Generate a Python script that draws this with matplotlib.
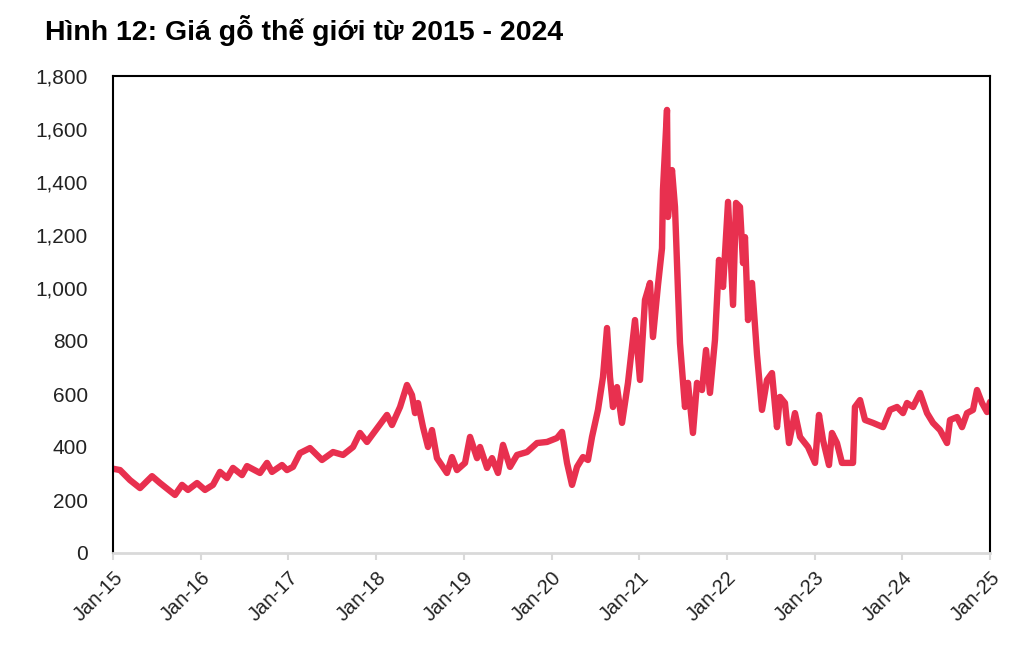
import matplotlib
matplotlib.use("Agg")
import matplotlib.pyplot as plt

plt.rcParams['font.family'] = ['Liberation Sans', 'DejaVu Sans']

years = [
    0.000, 0.080, 0.194, 0.308, 0.445, 0.536, 0.707, 0.787, 0.855, 0.958,
    1.049, 1.140, 1.220, 1.300, 1.368, 1.471, 1.528, 1.676, 1.756, 1.813,
    1.927, 1.984, 2.052, 2.132, 2.246, 2.383, 2.509, 2.623, 2.737, 2.816,
    2.896, 3.022, 3.124, 3.181, 3.273, 3.352, 3.409, 3.444, 3.478, 3.535,
    3.592, 3.637, 3.694, 3.808, 3.865, 3.922, 4.014, 4.071, 4.151, 4.185,
    4.265, 4.322, 4.390, 4.447, 4.527, 4.607, 4.721, 4.835, 4.949, 5.063,
    5.120, 5.177, 5.234, 5.291, 5.359, 5.416, 5.462, 5.530, 5.587, 5.633,
    5.667, 5.701, 5.747, 5.804, 5.872, 5.952, 6.009, 6.066, 6.123, 6.157,
    6.214, 6.260, 6.271, 6.317, 6.328, 6.374, 6.408, 6.442, 6.465, 6.522,
    6.556, 6.613, 6.659, 6.716, 6.762, 6.807, 6.864, 6.910, 6.956, 7.013,
    7.047, 7.070, 7.104, 7.149, 7.184, 7.206, 7.241, 7.286, 7.343, 7.400,
    7.457, 7.514, 7.571, 7.605, 7.662, 7.708, 7.776, 7.834, 7.925, 8.005,
    8.050, 8.096, 8.164, 8.198, 8.255, 8.312, 8.438, 8.460, 8.518, 8.575,
    8.666, 8.780, 8.860, 8.940, 9.008, 9.054, 9.122, 9.202, 9.282, 9.350,
    9.430, 9.510, 9.544, 9.624, 9.681, 9.738, 9.806, 9.852, 9.909, 9.966,
    10.000,
]
price = [
    318, 313, 275, 245, 290, 264, 219, 257, 238, 264,
    238, 257, 306, 283, 321, 294, 328, 302, 340, 306,
    332, 313, 325, 377, 396, 351, 381, 370, 400, 453,
    419, 475, 521, 483, 551, 634, 596, 528, 566, 475,
    400, 464, 358, 302, 362, 313, 340, 438, 358, 400,
    321, 358, 302, 408, 325, 370, 381, 415, 419, 434,
    457, 340, 257, 325, 362, 351, 438, 540, 664, 849,
    664, 551, 626, 491, 642, 879, 653, 955, 1019, 815,
    1010, 1150, 1370, 1672, 1268, 1445, 1306, 992, 792, 551,
    642, 453, 642, 615, 766, 604, 804, 1106, 1004, 1325,
    1094, 936, 1321, 1306, 1094, 1192, 879, 1019, 750, 540,
    653, 679, 475, 589, 566, 415, 528, 438, 400, 340,
    521, 426, 332, 453, 415, 340, 340, 551, 577, 502,
    491, 475, 540, 551, 528, 566, 551, 604, 528, 491,
    464, 415, 502, 513, 475, 528, 540, 615, 566, 532,
    570,
]
xtick_labels = ['Jan-15', 'Jan-16', 'Jan-17', 'Jan-18', 'Jan-19', 'Jan-20',
                'Jan-21', 'Jan-22', 'Jan-23', 'Jan-24', 'Jan-25']
yticks = [0, 200, 400, 600, 800, 1000, 1200, 1400, 1600, 1800]
title = 'Hình 12: Giá gỗ thế giới từ 2015 - 2024'

fig = plt.figure(figsize=(10.36, 6.46), dpi=100)
ax = fig.add_axes([113/1036, 1-553/646, (990-113)/1036, (553-76)/646])

x = [2015 + v for v in years]
ax.plot(x, price, color='#E8304F', lw=4.6, solid_joinstyle='round', solid_capstyle='round')

ax.set_xlim(2015, 2025)
ax.set_ylim(0, 1800)
ax.set_xticks(list(range(2015, 2026)))
ax.set_xticklabels(xtick_labels, rotation=45, ha='right', rotation_mode='anchor',
                   fontsize=14.5, color='#222222')
ax.set_yticks(yticks)
ax.set_yticklabels([f'{v:,}' for v in yticks], fontsize=15, color='#222222')
ax.tick_params(axis='y', length=0, pad=18)
ax.tick_params(axis='x', length=5, width=1.5, color='#d9d9d9', pad=6)

for s in ['left', 'top', 'right']:
    ax.spines[s].set_color('black')
    ax.spines[s].set_linewidth(1.5)
ax.spines['bottom'].set_color('#d9d9d9')
ax.spines['bottom'].set_linewidth(2)

fig.text(45/1036, 1-31/646, title, fontsize=20.5, fontweight='bold',
         va='center', ha='left', color='black')

fig.savefig('out.png', dpi=100)
